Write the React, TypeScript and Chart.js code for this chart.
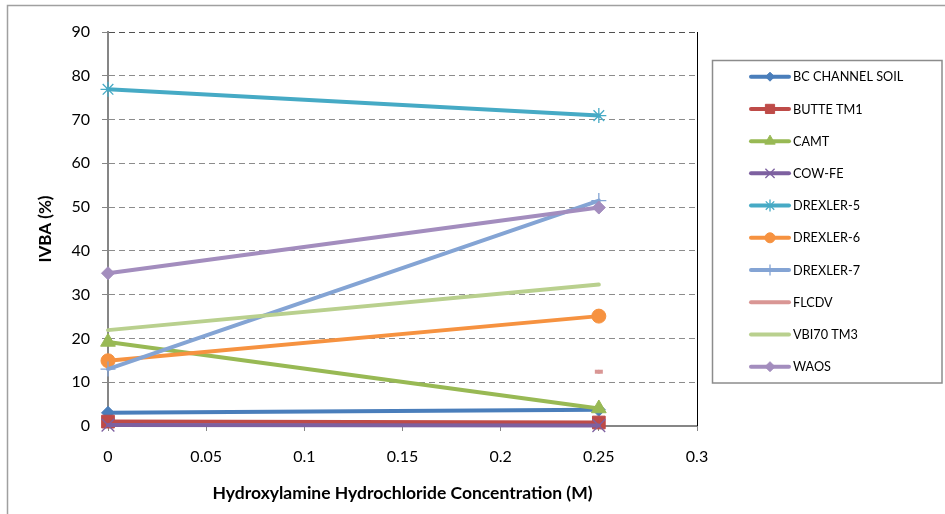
import React, { useEffect, useRef } from 'react';
import { Chart, registerables } from 'chart.js';
import { drawPoint } from 'chart.js/helpers';

Chart.register(...registerables);

// ---- Data ----
const concentrations = [0, 0.25];
const seriesNames = [
  'BC CHANNEL SOIL',
  'BUTTE TM1',
  'CAMT',
  'COW-FE',
  'DREXLER-5',
  'DREXLER-6',
  'DREXLER-7',
  'FLCDV',
  'VBI70 TM3',
  'WAOS',
];
const bcChannelSoil = [3.0, 3.7];
const butteTm1 = [1.0, 0.8];
const camt = [19.2, 4.0];
const cowFe = [0.2, 0.1];
const drexler5 = [76.9, 70.9];
const drexler6 = [14.9, 25.1];
const drexler7 = [13.0, 51.5];
const flcdv: (number | null)[] = [null, 12.4];
const vbi70Tm3 = [21.9, 32.3];
const waos = [34.9, 49.9];
const seriesValues = [bcChannelSoil, butteTm1, camt, cowFe, drexler5, drexler6, drexler7, flcdv, vbi70Tm3, waos];

const xTickValues = [0, 0.05, 0.1, 0.15, 0.2, 0.25, 0.3];
const xTickLabels = ['0', '0.05', '0.1', '0.15', '0.2', '0.25', '0.3'];
const yTickValues = [0, 10, 20, 30, 40, 50, 60, 70, 80, 90];
const yTickLabels = ['0', '10', '20', '30', '40', '50', '60', '70', '80', '90'];

// ---- Styles ----
const colors = ['#4A7EBB', '#BE4B48', '#98B954', '#7D60A0', '#46AAC5', '#F69240', '#84A4D4', '#D99694', '#B9D08E', '#A38DBE'];
const pointStyles = ['rectRot', 'rect', 'triangle', 'crossRot', 'star', 'circle', 'cross', 'line', false, 'rectRot'];
const pointRadii = [6.5, 9, 8.5, 9, 7.5, 7, 7.5, 4, 0, 6.5];
const pointBorderWidths = [1, 1, 1, 1.3, 1.3, 1, 1.3, 4, 0, 1];
const legendRadii = [4.5, 6.5, 6, 6.5, 6, 5, 5.5, 0, 0, 5];

const FONT = 'Lato, Carlito, "Liberation Sans", sans-serif';

const framePlugin = {
  id: 'frame',
  beforeDraw(chart: any) {
    const ctx = chart.ctx;
    ctx.save();
    ctx.fillStyle = '#ffffff';
    ctx.fillRect(0, 0, chart.width, chart.height);
    ctx.strokeStyle = '#a0a0a0';
    ctx.lineWidth = 1.5;
    ctx.beginPath();
    ctx.moveTo(7.5, chart.height);
    ctx.lineTo(7.5, 5.5);
    ctx.lineTo(chart.width, 5.5);
    ctx.stroke();
    ctx.restore();
  },
  beforeDatasetsDraw(chart: any) {
    const ctx = chart.ctx;
    const a = chart.chartArea;
    ctx.save();
    ctx.strokeStyle = '#000000';
    ctx.lineWidth = 1;
    ctx.beginPath();
    ctx.moveTo(Math.round(a.right) + 0.5, a.top);
    ctx.lineTo(Math.round(a.right) + 0.5, a.bottom);
    ctx.stroke();
    ctx.restore();
  },
  afterDraw(chart: any) {
    const ctx = chart.ctx;
    ctx.save();
    ctx.strokeStyle = '#8c8c8c';
    ctx.lineWidth = 1.5;
    ctx.strokeRect(712.5, 60.5, 229.5, 322.5);
    chart.data.datasets.forEach((ds: any, i: number) => {
      const y = 76.7 + i * 32.22;
      ctx.strokeStyle = ds.borderColor;
      ctx.lineWidth = 4;
      ctx.lineCap = 'round';
      ctx.setLineDash([]);
      ctx.beginPath();
      ctx.moveTo(751, y);
      ctx.lineTo(789, y);
      ctx.stroke();
      if (pointStyles[i] && legendRadii[i] > 0) {
        ctx.fillStyle = ds.borderColor;
        ctx.strokeStyle = ds.borderColor;
        ctx.lineWidth = pointBorderWidths[i];
        ctx.lineCap = 'butt';
        drawPoint(ctx, { pointStyle: pointStyles[i], rotation: 0, radius: legendRadii[i], borderWidth: pointBorderWidths[i] } as any, 770, y);
      }
      ctx.fillStyle = '#000000';
      ctx.font = '12.7px ' + FONT;
      ctx.textBaseline = 'middle';
      ctx.textAlign = 'left';
      ctx.fillText(ds.label, 793, y + 0.5);
    });
    ctx.restore();
  },
};

export default function App() {
  const canvasRef = useRef<HTMLCanvasElement | null>(null);

  useEffect(() => {
    document.body.style.margin = '0';
    const canvas = canvasRef.current;
    if (!canvas) return;

    const datasets = seriesNames.map((name, i) => ({
      label: name,
      data: concentrations
        .map((x, j) => ({ x, y: seriesValues[i][j] }))
        .filter((p) => p.y !== null && p.y !== undefined),
      showLine: true,
      borderColor: colors[i],
      backgroundColor: colors[i],
      borderWidth: 4,
      borderCapStyle: 'round',
      pointStyle: pointStyles[i] as any,
      pointRadius: pointRadii[i],
      pointHoverRadius: pointRadii[i],
      pointBorderWidth: pointBorderWidths[i],
      pointBackgroundColor: colors[i],
      pointBorderColor: colors[i],
      clip: false as any,
      order: seriesNames.length - i,
    }));

    const chart = new Chart(canvas, {
      type: 'scatter',
      data: { datasets: datasets as any },
      plugins: [framePlugin],
      options: {
        animation: false,
        responsive: false,
        devicePixelRatio: 1,
        layout: { padding: { top: 32, right: 248, left: 0, bottom: 0 } },
        plugins: {
          legend: { display: false },
          tooltip: { enabled: false },
        },
        scales: {
          x: {
            type: 'linear',
            min: 0,
            max: 0.3,
            afterFit: (scale: any) => {
              scale.height = 88;
            },
            afterBuildTicks: (scale: any) => {
              scale.ticks = xTickValues.map((v) => ({ value: v }));
            },
            ticks: {
              color: '#000000',
              font: { family: FONT, size: 16 },
              padding: 16,
              maxRotation: 0,
              autoSkip: false,
              callback: (_v: any, idx: number) => xTickLabels[idx],
            },
            grid: {
              drawOnChartArea: false,
              drawTicks: true,
              tickLength: 5,
              tickColor: '#868686',
              tickWidth: 1,
            },
            border: { display: true, color: '#868686', width: 2 },
            title: {
              display: true,
              text: 'Hydroxylamine Hydrochloride Concentration (M)',
              color: '#000000',
              font: { family: FONT, size: 17.5, weight: 'bold' },
              padding: { top: 0, bottom: 10 },
            },
          },
          y: {
            type: 'linear',
            min: 0,
            max: 90,
            afterFit: (scale: any) => {
              scale.width = 108;
            },
            afterBuildTicks: (scale: any) => {
              scale.ticks = yTickValues.map((v) => ({ value: v }));
            },
            ticks: {
              color: '#000000',
              font: { family: FONT, size: 16 },
              padding: 12,
              autoSkip: false,
              callback: (_v: any, idx: number) => yTickLabels[idx],
            },
            grid: {
              color: (c: any) => (c.tick && c.tick.value === 90 ? '#505050' : '#8c8c8c'),
              lineWidth: 1,
              drawTicks: true,
              tickLength: 6,
              tickColor: '#868686',
              tickBorderDash: [],
              tickWidth: 1,
            },
            border: { display: true, color: '#868686', width: 2, dash: [6, 4] },
            title: {
              display: true,
              text: 'IVBA (%)',
              color: '#000000',
              font: { family: FONT, size: 17, weight: 'bold' },
              padding: { top: 35.5, bottom: 0 },
            },
          },
        },
      } as any,
    });

    return () => {
      chart.destroy();
    };
  }, []);

  return (
    <div style={{ width: 945, height: 514, background: '#ffffff' }}>
      <canvas ref={canvasRef} width={945} height={514} style={{ display: 'block', width: 945, height: 514 }} />
    </div>
  );
}
